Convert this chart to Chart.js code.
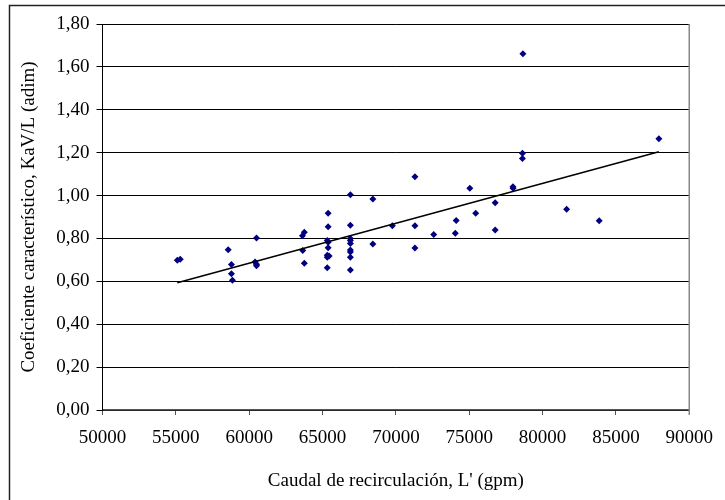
<!DOCTYPE html>
<html>
<head>
<meta charset="utf-8">
<script src="https://cdn.jsdelivr.net/npm/chart.js@4/dist/chart.umd.min.js"></script>
<style>
  html, body { margin: 0; padding: 0; background: #fff; }
  #grafico { display: block; }
</style>
</head>
<body>
<canvas id="grafico" width="725" height="500"></canvas>
<script>
// caudal de recirculación (gpm) y coeficiente KaV/L
const caudal = [
    55100, 55300, 58570, 58790, 58790, 58860, 60500, 60400, 60500, 60500,
    63630, 63760, 63650, 63760, 65380, 65380, 65320, 65380, 65380, 65320,
    65450, 65320, 65320, 66900, 66900, 66900, 66900, 66900, 66900, 66900,
    66900, 66900, 68430, 68430, 69760, 71300, 71300, 71300, 72580, 74050,
    74110, 75040, 75440, 76770, 76770, 77980, 77990, 78630, 78630, 78660,
    81640, 83860, 87930
];
const coeficiente = [
    0.698, 0.703, 0.747, 0.679, 0.635, 0.605, 0.802, 0.690, 0.680, 0.673,
    0.812, 0.829, 0.744, 0.684, 0.917, 0.855, 0.790, 0.782, 0.757, 0.722,
    0.718, 0.712, 0.663, 1.004, 0.862, 0.800, 0.790, 0.777, 0.746, 0.737,
    0.712, 0.653, 0.984, 0.774, 0.859, 1.088, 0.859, 0.755, 0.818, 0.824,
    0.884, 1.034, 0.918, 0.966, 0.839, 1.041, 1.034, 1.197, 1.173, 1.661,
    0.936, 0.883, 1.265
];

// línea de tendencia (extremos)
const tendenciaX = [55100, 87930];
const tendenciaY = [0.593, 1.204];

const ejeX = [50000, 90000, 5000];
const ejeY = [0, 1.8, 0.2];

const fuente = 'Liberation Serif, Times New Roman, serif';

// marco exterior y borde derecho del área de trazado
const marcos = {
    id: 'marcos',
    beforeDraw(chart) {
        const ctx = chart.ctx;
        ctx.save();
        ctx.fillStyle = '#fff';
        ctx.fillRect(0, 0, chart.width, chart.height);
        ctx.strokeStyle = '#222';
        ctx.lineWidth = 1.5;
        ctx.strokeRect(9.5, 5.5, 800, 600);
        ctx.restore();
    },
    afterDatasetsDraw(chart) {
        const { ctx, chartArea } = chart;
        ctx.save();
        ctx.strokeStyle = '#888';
        ctx.lineWidth = 1.5;
        ctx.beginPath();
        ctx.moveTo(chartArea.right, chartArea.top);
        ctx.lineTo(chartArea.right, chartArea.bottom + 5);
        ctx.stroke();
        ctx.restore();
    }
};

const puntos = caudal.map((x, i) => ({ x, y: coeficiente[i] }));
const tendencia = tendenciaX.map((x, i) => ({ x, y: tendenciaY[i] }));

new Chart(document.getElementById('grafico'), {
    type: 'scatter',
    data: {
        datasets: [{
            data: tendencia,
            showLine: true,
            borderColor: '#000',
            borderWidth: 1.5,
            pointRadius: 0,
            fill: false
        }, {
            data: puntos,
            pointStyle: 'rectRot',
            pointRadius: 3.5,
            backgroundColor: '#000080',
            borderColor: '#000080',
            borderWidth: 0
        }]
    },
    options: {
        responsive: false,
        animation: false,
        layout: { padding: { top: 24, right: 27, left: 0, bottom: 0 } },
        plugins: {
            legend: { display: false },
            tooltip: { enabled: false }
        },
        scales: {
            x: {
                type: 'linear',
                min: ejeX[0],
                max: ejeX[1],
                afterFit: s => { s.height = 90; },
                border: { color: '#555', width: 1.5 },
                grid: { drawOnChartArea: false, drawTicks: true, tickLength: 5, tickColor: '#555' },
                ticks: {
                    stepSize: ejeX[2],
                    padding: 12,
                    color: '#000',
                    font: { family: fuente, size: 19 },
                    callback: v => String(v)
                },
                title: {
                    display: true,
                    text: "Caudal de recirculación, L' (gpm)",
                    color: '#000',
                    font: { family: fuente, size: 19 },
                    padding: { top: 0, bottom: 8 }
                }
            },
            y: {
                min: ejeY[0],
                max: ejeY[1],
                afterFit: s => { s.width = 102.5; },
                border: { color: '#000', width: 1 },
                grid: { color: '#000', lineWidth: 1, tickLength: 6, tickColor: '#000' },
                ticks: {
                    stepSize: ejeY[2],
                    padding: 7,
                    color: '#000',
                    font: { family: fuente, size: 19 },
                    callback: v => v.toFixed(2).replace('.', ',')
                },
                title: {
                    display: true,
                    text: 'Coeficiente característico, KaV/L (adim)',
                    color: '#000',
                    font: { family: fuente, size: 19 },
                    padding: { top: 18, bottom: 0 }
                }
            }
        }
    },
    plugins: [marcos]
});
</script>
</body>
</html>
